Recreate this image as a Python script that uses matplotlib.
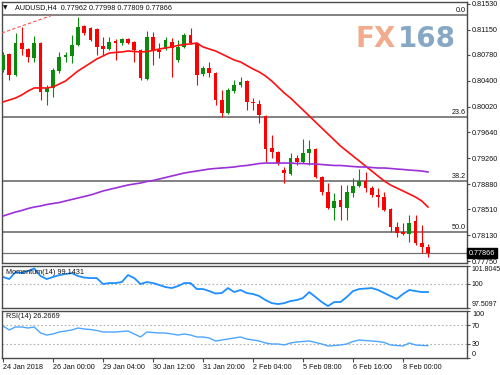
import matplotlib
matplotlib.use('Agg')
import matplotlib.pyplot as plt
import matplotlib.transforms as mtrans
import numpy as np

plt.rcParams['font.family'] = ['Liberation Sans', 'DejaVu Sans']

# ---------------- data ----------------
opens = [0.80559, 0.80795, 0.80486, 0.80956, 0.80868, 0.80736, 0.80956, 0.80236, 0.80295, 0.80545,
         0.80750, 0.80765, 0.80927, 0.81206, 0.81177, 0.81162, 0.80912, 0.80868, 0.80986, 0.80956,
         0.81015, 0.80971, 0.80853, 0.80427, 0.81045, 0.80853, 0.80868, 0.80971, 0.80706, 0.80898,
         0.81074, 0.80956, 0.80500, 0.80589, 0.80515, 0.80118, 0.79927, 0.80250, 0.80339, 0.80397,
         0.80089, 0.80059, 0.79883, 0.79412, 0.79353, 0.79088, 0.79030, 0.79265, 0.79206, 0.79339,
         0.79397, 0.78985, 0.78765, 0.78530, 0.78647, 0.78530, 0.78750, 0.78853, 0.78927, 0.78824,
         0.78721, 0.78691, 0.78515, 0.78250, 0.78177, 0.78147, 0.78338, 0.78015, 0.77962]
highs = [0.80824, 0.80810, 0.81103, 0.81192, 0.80883, 0.81059, 0.80971, 0.80339, 0.80589, 0.80824,
         0.80824, 0.81074, 0.81339, 0.81221, 0.81192, 0.81177, 0.81045, 0.81045, 0.81015, 0.81030,
         0.81030, 0.80986, 0.80868, 0.81133, 0.81118, 0.80956, 0.81045, 0.81030, 0.81001, 0.81103,
         0.81177, 0.80971, 0.80618, 0.80677, 0.80530, 0.80265, 0.80295, 0.80412, 0.80456, 0.80412,
         0.80147, 0.80118, 0.79897, 0.79603, 0.79368, 0.79133, 0.79339, 0.79309, 0.79544, 0.79530,
         0.79412, 0.79000, 0.78897, 0.78750, 0.78868, 0.78868, 0.78971, 0.79103, 0.79059, 0.78853,
         0.78824, 0.78765, 0.78530, 0.78324, 0.78309, 0.78427, 0.78427, 0.78280, 0.77998]
lows = [0.80530, 0.80412, 0.80471, 0.80780, 0.80677, 0.80677, 0.80118, 0.80044, 0.80162, 0.80515,
        0.80677, 0.80662, 0.80912, 0.81074, 0.80986, 0.80780, 0.80780, 0.80853, 0.80706, 0.80927,
        0.80942, 0.80677, 0.80412, 0.80412, 0.80633, 0.80736, 0.80853, 0.80456, 0.80677, 0.80883,
        0.80942, 0.80339, 0.80471, 0.80456, 0.80044, 0.79868, 0.79912, 0.80221, 0.80309, 0.79971,
        0.79971, 0.79780, 0.79206, 0.79265, 0.79162, 0.78897, 0.79015, 0.79162, 0.79191, 0.79162,
        0.78971, 0.78721, 0.78515, 0.78353, 0.78353, 0.78353, 0.78691, 0.78838, 0.78765, 0.78691,
        0.78544, 0.78485, 0.78177, 0.78103, 0.78133, 0.78030, 0.77985, 0.77868, 0.77809]
closes = [0.80780, 0.80486, 0.80956, 0.80868, 0.80750, 0.80956, 0.80236, 0.80295, 0.80559, 0.80750,
          0.80780, 0.80927, 0.81192, 0.81103, 0.81001, 0.80898, 0.80868, 0.80971, 0.80956, 0.81015,
          0.80956, 0.80853, 0.80442, 0.81045, 0.80853, 0.80824, 0.81001, 0.80883, 0.80898, 0.81074,
          0.80956, 0.80486, 0.80589, 0.80515, 0.80118, 0.79927, 0.80265, 0.80339, 0.80383, 0.80089,
          0.80074, 0.79897, 0.79397, 0.79353, 0.79191, 0.79044, 0.79265, 0.79206, 0.79339, 0.79397,
          0.78985, 0.78765, 0.78530, 0.78633, 0.78544, 0.78765, 0.78853, 0.78927, 0.78824, 0.78721,
          0.78691, 0.78500, 0.78250, 0.78162, 0.78147, 0.78309, 0.78015, 0.77956, 0.77866]

ma_fast = [0.80089, 0.80118, 0.80147, 0.80192, 0.80250, 0.80295, 0.80295, 0.80295, 0.80309, 0.80353,
           0.80397, 0.80471, 0.80545, 0.80603, 0.80662, 0.80721, 0.80765, 0.80809, 0.80817, 0.80824,
           0.80839, 0.80831, 0.80824, 0.80831, 0.80846, 0.80868, 0.80883, 0.80898, 0.80920, 0.80934,
           0.80942, 0.80956, 0.80898, 0.80868, 0.80839, 0.80795, 0.80750, 0.80706, 0.80677, 0.80625,
           0.80574, 0.80530, 0.80471, 0.80397, 0.80309, 0.80221, 0.80147, 0.80059, 0.79971, 0.79883,
           0.79794, 0.79706, 0.79618, 0.79530, 0.79441, 0.79368, 0.79294, 0.79221, 0.79147, 0.79074,
           0.79000, 0.78927, 0.78868, 0.78824, 0.78780, 0.78736, 0.78691, 0.78633, 0.78544]
ma_slow = [0.78412, 0.78441, 0.78471, 0.78493, 0.78522, 0.78544, 0.78559, 0.78581, 0.78596, 0.78610,
           0.78633, 0.78655, 0.78677, 0.78699, 0.78721, 0.78750, 0.78780, 0.78802, 0.78824, 0.78846,
           0.78868, 0.78883, 0.78897, 0.78919, 0.78934, 0.78956, 0.78978, 0.79000, 0.79022, 0.79044,
           0.79059, 0.79074, 0.79088, 0.79103, 0.79111, 0.79118, 0.79125, 0.79133, 0.79147, 0.79155,
           0.79169, 0.79184, 0.79191, 0.79191, 0.79191, 0.79191, 0.79191, 0.79184, 0.79184, 0.79177,
           0.79177, 0.79169, 0.79162, 0.79155, 0.79155, 0.79147, 0.79140, 0.79133, 0.79133, 0.79125,
           0.79118, 0.79118, 0.79111, 0.79103, 0.79096, 0.79088, 0.79081, 0.79074, 0.79059]

momentum = [100.68, 100.47, 101.19, 101.08, 101.29, 101.55, 100.78, 100.47, 100.68, 100.88,
            100.98, 101.08, 100.78, 100.62, 100.57, 100.57, 99.96, 100.06, 100.06, 100.16,
            100.88, 100.57, 99.96, 100.16, 100.06, 99.86, 99.65, 99.55, 99.75, 100.06,
            100.06, 99.45, 99.45, 99.24, 98.99, 99.04, 99.55, 99.14, 99.35, 99.04,
            98.94, 98.73, 98.32, 98.01, 97.91, 98.01, 98.22, 98.32, 98.53, 99.14,
            98.63, 98.12, 97.71, 98.12, 98.12, 98.63, 99.24, 99.45, 99.50, 99.55,
            99.35, 99.04, 98.73, 98.43, 98.94, 99.35, 99.24, 99.14, 99.1431]
rsi = [68.1, 59.6, 66.0, 66.0, 63.8, 66.0, 53.2, 48.9, 51.1, 55.3,
       57.4, 59.6, 63.8, 61.7, 60.6, 58.5, 55.3, 55.3, 55.3, 56.4,
       57.4, 51.1, 44.7, 55.3, 54.3, 53.2, 53.2, 51.1, 48.9, 51.1,
       48.9, 44.7, 44.7, 42.6, 36.2, 38.3, 40.4, 42.6, 44.7, 40.4,
       38.3, 36.2, 31.9, 29.8, 29.8, 27.7, 31.9, 34.0, 35.1, 36.2,
       33.0, 29.8, 25.5, 26.6, 27.7, 29.8, 35.1, 38.3, 37.2, 36.2,
       35.1, 33.0, 27.7, 26.6, 25.5, 31.9, 27.7, 26.6, 26.2669]

date_tick_idx = [0, 8, 16, 24, 32, 40, 48, 56, 64]
date_labels = ['24 Jan 2018', '26 Jan 00:00', '29 Jan 04:00', '30 Jan 12:00', '31 Jan 20:00',
               '2 Feb 04:00', '5 Feb 08:00', '6 Feb 16:00', '8 Feb 00:00']
price_ticks = [0.81530, 0.81150, 0.80780, 0.80400, 0.80020, 0.79640, 0.79260,
               0.78880, 0.78510, 0.78130, 0.77750]
fib_prices = [0.81369, 0.79868, 0.78927, 0.78177]
fib_names = ['0.0', '23.6', '38.2', '50.0']
last_price = 0.77866
trend_x = [-0.2, 8.0]
trend_y = [0.81103, 0.81368]
mom_ticks = [97.5097, 100.0, 101.8045]
rsi_ticks = [0, 30, 70, 100]

# ---------------- figure ----------------
W, H = 500, 375
fig = plt.figure(figsize=(5, 3.75), dpi=100)
fig.patch.set_facecolor('white')

def rect(x0, y0, x1, y1):
    return [x0 / W, 1 - y1 / H, (x1 - x0) / W, (y1 - y0) / H]

def px(x, y):
    return x / W, 1 - y / H

ax = fig.add_axes(rect(2, 2, 467, 263))
axm = fig.add_axes(rect(2, 266, 467, 308))
axr = fig.add_axes(rect(2, 311, 467, 358))

XL = (-0.16, 74.24)
FS = 5.2
TXT = '#111111'
SP = '#4a4a4a'

for a in (ax, axm, axr):
    a.set_xlim(*XL)
    for s in a.spines.values():
        s.set_color(SP)
        s.set_linewidth(1.0)
    a.yaxis.tick_right()
    a.tick_params(axis='y', length=2.5, width=0.8, colors=SP, labelsize=FS,
                  labelcolor=TXT, pad=1.2)
    a.set_facecolor('white')

# ---- main panel ----
ax.set_ylim(0.77721, 0.81559)
x = np.arange(len(opens))
o = np.array(opens); c = np.array(closes); h = np.array(highs); l = np.array(lows)
up = c >= o
green = '#0b8a0b'
red = '#ff0000'
cols = np.where(up, green, red)
ax.vlines(x, l, h, colors=cols, lw=0.8, zorder=3)
body_b = np.minimum(o, c)
body_h = np.maximum(np.abs(c - o), 0.00005)
ax.bar(x, body_h, bottom=body_b, width=0.62, color=cols, linewidth=0, zorder=4)

ax.plot(x, ma_fast, color='#ff1010', lw=1.2, zorder=5)
ax.plot(x, ma_slow, color='#9b30d9', lw=1.2, zorder=5)
ax.plot(trend_x, trend_y, color='#ff5050', lw=0.8, ls=(0, (3, 2)), zorder=5)

for p, nm in zip(fib_prices, fib_names):
    ax.axhline(p, color='#606060', lw=1.1, zorder=2)
    ax.text(XL[1] - 0.25, p + 0.00012, nm, ha='right', va='bottom', fontsize=FS,
            color=TXT, zorder=6)
ax.axhline(last_price, color='#707070', lw=0.9, zorder=2)

ax.set_yticks(price_ticks)
ax.set_yticklabels(['%.5f' % v for v in price_ticks])
ax.set_xticks([])

tr = mtrans.blended_transform_factory(ax.transAxes, ax.transData)
ax.text(1.003, last_price, '0.77866', transform=tr, ha='left', va='center',
        fontsize=FS, color='white', zorder=10, clip_on=False,
        bbox=dict(boxstyle='square,pad=0.25', fc='black', ec='black'))

# watermark
fig.text(*px(396, 47), 'FX', ha='right', va='baseline', fontsize=20,
         fontweight='bold', color='#f2ab8c', family='DejaVu Sans')
fig.text(*px(398, 47), '168', ha='left', va='baseline', fontsize=20,
         fontweight='bold', color='#87a8c4', family='DejaVu Sans')

# title
fig.text(*px(3, 8), '\u25bc', ha='left', va='center', fontsize=4.2, color=TXT,
         family=['DejaVu Sans'])
fig.text(*px(15, 8), 'AUDUSD,H4  0.77962 0.77998 0.77809 0.77866', ha='left',
         va='center', fontsize=FS, color=TXT)

# ---- momentum panel ----
axm.set_ylim(mom_ticks[0], mom_ticks[-1])
axm.axhline(100, color='#b0b0b0', lw=0.8, ls=(0, (1.5, 2)))
axm.plot(x, momentum, color='#1e8fff', lw=1.3, clip_on=False)
axm.set_yticks(mom_ticks)
axm.set_yticklabels(['97.5097', '100', '101.8045'])
axm.tick_params(axis='y', pad=0.6, labelsize=5.0)
labs = axm.get_yticklabels()
labs[0].set_va('bottom'); labs[2].set_va('top')
axm.set_xticks([])
fig.text(*px(6, 273), 'Momentum(14) 99.1431', ha='left', va='center',
         fontsize=FS, color=TXT)

# ---- RSI panel ----
axr.set_ylim(0, 100)
for lv in (70, 30):
    axr.axhline(lv, color='#b0b0b0', lw=0.8, ls=(0, (1.5, 2)))
axr.plot(x, rsi, color='#4da6ff', lw=1.0)
axr.set_yticks(rsi_ticks)
axr.set_yticklabels([str(v) for v in rsi_ticks])
labs = axr.get_yticklabels()
labs[0].set_va('bottom'); labs[3].set_va('top')
axr.set_xticks(date_tick_idx)
axr.set_xticklabels(date_labels)
for t in axr.get_xticklabels():
    t.set_ha('left')
axr.tick_params(axis='x', length=3, width=0.8, colors=SP, labelsize=FS,
                labelcolor=TXT, pad=1.5)
fig.text(*px(6, 317), 'RSI(14) 26.2669', ha='left', va='center',
         fontsize=FS, color=TXT)

fig.savefig('out.png', dpi=100, facecolor='white')
